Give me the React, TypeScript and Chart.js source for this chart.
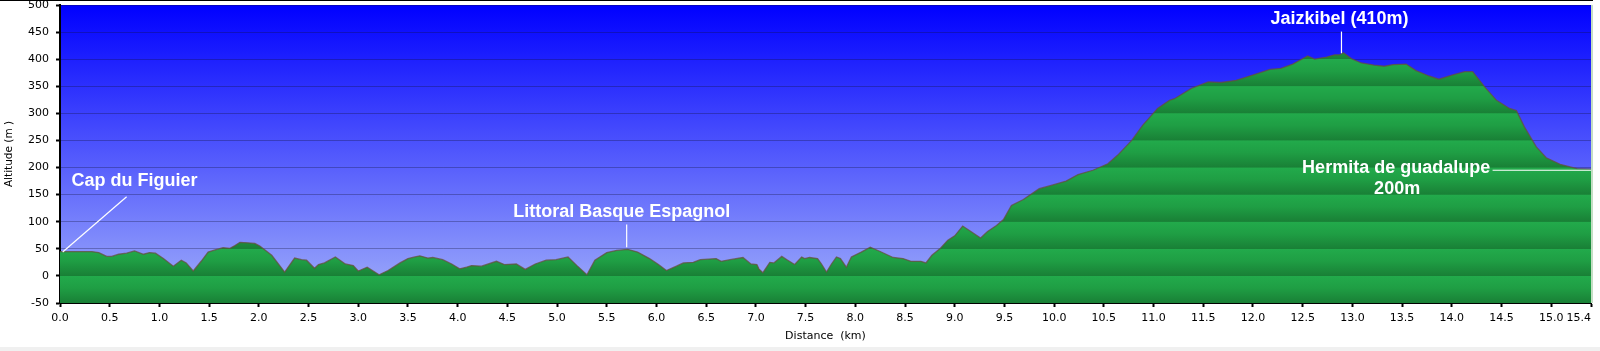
import { useEffect, useRef } from "react";
import { Chart, registerables } from "chart.js";

Chart.register(...registerables);

// Distance along the route (km)
const distanceKm = [
  0.0, 0.32, 0.39, 0.47, 0.52, 0.59, 0.67, 0.75, 0.84, 0.9, 0.96, 1.04, 1.14, 1.22, 1.27, 1.34, 1.42, 1.49,
  1.56, 1.64, 1.71, 1.76, 1.81, 1.89, 1.96, 2.01, 2.13, 2.26, 2.36, 2.43, 2.48, 2.56, 2.6, 2.66, 2.77, 2.87,
  2.95, 3.0, 3.09, 3.21, 3.3, 3.42, 3.5, 3.57, 3.62, 3.7, 3.75, 3.85, 3.94, 4.02, 4.09, 4.14, 4.24, 4.39,
  4.47, 4.59, 4.68, 4.78, 4.89, 4.99, 5.11, 5.2, 5.3, 5.38, 5.5, 5.6, 5.71, 5.81, 5.93, 6.02, 6.1, 6.2,
  6.27, 6.37, 6.44, 6.6, 6.65, 6.74, 6.87, 6.95, 7.01, 7.03, 7.07, 7.14, 7.18, 7.26, 7.32, 7.39, 7.46, 7.49,
  7.54, 7.62, 7.66, 7.71, 7.76, 7.81, 7.85, 7.91, 7.96, 8.06, 8.15, 8.25, 8.38, 8.48, 8.56, 8.66, 8.71, 8.77,
  8.85, 8.93, 9.0, 9.08, 9.17, 9.26, 9.33, 9.42, 9.49, 9.57, 9.69, 9.77, 9.85, 9.97, 10.12, 10.24, 10.39,
  10.54, 10.64, 10.78, 10.89, 11.04, 11.16, 11.21, 11.38, 11.55, 11.68, 11.83, 12.02, 12.17, 12.28, 12.4,
  12.55, 12.62, 12.74, 12.82, 12.87, 12.91, 12.99, 13.09, 13.22, 13.32, 13.41, 13.54, 13.64, 13.77, 13.87,
  14.01, 14.13, 14.21, 14.33, 14.45, 14.58, 14.65, 14.73, 14.85, 14.95, 15.09, 15.26, 15.4,
];

// Altitude (m)
const altitudeM = [
  45, 45, 43, 36, 36, 40, 42, 46, 40, 43, 42, 32, 18, 29, 24, 9, 27, 44,
  48, 52, 51, 56, 62, 61, 60, 55, 38, 7, 33, 30, 29, 14, 21, 24, 35, 22,
  19, 9, 16, 2, 10, 24, 32, 35, 37, 33, 34, 30, 22, 13, 16, 19, 18, 27,
  21, 22, 12, 22, 29, 30, 35, 19, 2, 29, 43, 47, 49, 44, 32, 21, 10, 18,
  24, 25, 30, 32, 27, 30, 34, 22, 21, 13, 6, 25, 24, 36, 29, 21, 35, 32,
  34, 32, 22, 7, 22, 35, 32, 16, 35, 44, 53, 45, 34, 32, 27, 27, 24, 38,
  50, 66, 74, 92, 81, 70, 82, 93, 104, 130, 141, 151, 161, 167, 175, 187, 195,
  207, 223, 250, 278, 309, 324, 327, 346, 358, 357, 361, 372, 381, 383, 391,
  406, 400, 404, 408, 408, 412, 401, 393, 389, 387, 390, 391, 379, 369, 363,
  371, 377, 377, 349, 324, 309, 305, 275, 238, 218, 206, 198, 197,
];

const xTickValues = [
  0.0, 0.5, 1.0, 1.5, 2.0, 2.5, 3.0, 3.5, 4.0, 4.5, 5.0, 5.5, 6.0, 6.5, 7.0, 7.5, 8.0, 8.5, 9.0, 9.5,
  10.0, 10.5, 11.0, 11.5, 12.0, 12.5, 13.0, 13.5, 14.0, 14.5, 15.0, 15.4,
];
const yTickValues = [-50, 0, 50, 100, 150, 200, 250, 300, 350, 400, 450, 500];

// Annotation texts (anchored in data coordinates: km, m)
const labelTexts = [
  { text: "Cap du Figuier", km: 0.75, alt: 175 },
  { text: "Littoral Basque Espagnol", km: 5.65, alt: 118 },
  { text: "Jaizkibel (410m)", km: 12.87, alt: 475 },
  { text: "Hermita de guadalupe", km: 13.44, alt: 199 },
  { text: "200m", km: 13.45, alt: 160 },
];
// Leader lines: [km1, alt1, km2, alt2]
const leaderLines = [
  [0.67, 146, 0.027, 44],
  [5.7, 95, 5.7, 53],
  [12.89, 451, 12.89, 411],
  [14.41, 195, 15.4, 195],
];

const annotationPlugin = {
  id: "annotations",
  beforeDraw(chart: any) {
    const { ctx, chartArea, width, height } = chart;
    ctx.save();
    ctx.fillStyle = "#ffffff";
    ctx.fillRect(0, 0, width, height);
    // sky gradient
    const g = ctx.createLinearGradient(0, chartArea.top, 0, chartArea.bottom);
    g.addColorStop(0, "rgb(0,0,255)");
    g.addColorStop(1, "rgb(162,176,250)");
    ctx.fillStyle = g;
    ctx.fillRect(chartArea.left, chartArea.top, chartArea.right - chartArea.left, chartArea.bottom - chartArea.top);
    // frame details
    ctx.fillStyle = "#000000";
    ctx.fillRect(0, 0, chartArea.right + 2, 1);
    ctx.fillStyle = "rgb(240,240,240)";
    ctx.fillRect(0, height - 4, width, 4);
    ctx.restore();
  },
  afterDraw(chart: any) {
    const { ctx, chartArea, scales } = chart;
    const xs = scales.x;
    const ys = scales.y;
    ctx.save();
    // right light border
    ctx.fillStyle = "rgb(196,222,196)";
    ctx.fillRect(chartArea.right, chartArea.top, 2, chartArea.bottom - chartArea.top);
    ctx.strokeStyle = "#ffffff";
    ctx.lineWidth = 1.2;
    for (const l of leaderLines) {
      ctx.beginPath();
      ctx.moveTo(xs.getPixelForValue(l[0]), ys.getPixelForValue(l[1]));
      ctx.lineTo(xs.getPixelForValue(l[2]), ys.getPixelForValue(l[3]));
      ctx.stroke();
    }
    ctx.fillStyle = "#ffffff";
    ctx.font = "bold 18px 'Liberation Sans', Arial, sans-serif";
    ctx.textAlign = "center";
    ctx.textBaseline = "middle";
    for (const t of labelTexts) {
      ctx.fillText(t.text, xs.getPixelForValue(t.km), ys.getPixelForValue(t.alt));
    }
    ctx.restore();
  },
};

export default function App() {
  const ref = useRef<HTMLCanvasElement | null>(null);

  useEffect(() => {
    if (!ref.current) return;
    Chart.defaults.font.family = "'DejaVu Sans', Verdana, sans-serif";
    Chart.defaults.font.size = 11;
    Chart.defaults.color = "#000000";

    const greenFill = (c: any) => {
      const chart = c.chart;
      const { chartArea, scales } = chart;
      if (!chartArea || !scales.y) return "rgb(32,160,70)";
      const ys = scales.y;
      const top = chartArea.top;
      const bottom = chartArea.bottom;
      const g = chart.ctx.createLinearGradient(0, top, 0, bottom);
      const frac = (v: number) => Math.min(1, Math.max(0, (ys.getPixelForValue(v) - top) / (bottom - top)));
      for (let i = yTickValues.length - 1; i > 0; i--) {
        const hi = yTickValues[i];
        const lo = yTickValues[i - 1];
        const f1 = frac(hi);
        const f2 = frac(lo);
        g.addColorStop(Math.min(1, f1 + 0.001), "rgb(34,170,75)");
        g.addColorStop(f1 + (f2 - f1) * 0.45, "rgb(31,158,68)");
        g.addColorStop(Math.max(0, f2 - 0.001), "rgb(25,128,54)");
      }
      return g;
    };

    const lastTick = xTickValues[xTickValues.length - 1];

    const chart = new Chart(ref.current, {
      type: "line",
      data: {
        datasets: [
          {
            data: distanceKm.map((d, i) => ({ x: d, y: altitudeM[i] })),
            fill: "start",
            backgroundColor: greenFill,
            borderColor: "rgba(100,80,60,0.75)",
            borderWidth: 1.3,
            pointRadius: 0,
            tension: 0,
          },
        ],
      },
      options: {
        responsive: false,
        animation: false,
        devicePixelRatio: 1,
        layout: { padding: { top: 5, right: 9, bottom: 8, left: 0 } },
        plugins: { legend: { display: false }, tooltip: { enabled: false } },
        scales: {
          x: {
            type: "linear",
            min: 0,
            max: lastTick,
            z: 1,
            afterBuildTicks: (scale: any) => {
              scale.ticks = xTickValues.map((v) => ({ value: v }));
            },
            afterFit: (scale: any) => {
              scale.height = 40;
              scale.paddingLeft = 0;
              scale.paddingRight = 0;
            },
            ticks: {
              autoSkip: false,
              maxRotation: 0,
              padding: 5,
              callback: (v: any) => {
                const s = Number(v).toFixed(1);
                // last label sits flush-left of the axis end
                return Number(v) === lastTick ? s + "\u00a0\u00a0\u00a0\u00a0\u00a0\u00a0\u00a0" : s;
              },
            },
            grid: {
              drawOnChartArea: false,
              tickLength: 4,
              tickColor: "#000000",
              tickWidth: 2,
            },
            border: { color: "#000000", width: 2 },
            title: { display: true, text: "Distance  (km)", padding: { top: 0, bottom: 0 }, font: { size: 11 } },
          },
          y: {
            min: -50,
            max: 500,
            z: 1,
            afterBuildTicks: (scale: any) => {
              scale.ticks = yTickValues.map((v) => ({ value: v }));
            },
            afterFit: (scale: any) => {
              scale.width = 60;
              scale.paddingTop = 0;
              scale.paddingBottom = 0;
            },
            ticks: { padding: 7 },
            grid: {
              color: "rgba(20,20,60,0.32)",
              lineWidth: 1,
              tickLength: 4,
              tickColor: "#000000",
              tickWidth: 2,
            },
            border: { color: "#000000", width: 2 },
            title: { display: true, text: "Altitude (m )", padding: { top: 3, bottom: 0 }, font: { size: 10.5 } },
          },
        },
      },
      plugins: [annotationPlugin],
    });
    return () => chart.destroy();
  }, []);

  return (
    <div style={{ position: "fixed", left: 0, top: 0, width: 1600, height: 351, background: "#fff" }}>
      <canvas ref={ref} width={1600} height={351} style={{ display: "block", width: 1600, height: 351 }} />
    </div>
  );
}
